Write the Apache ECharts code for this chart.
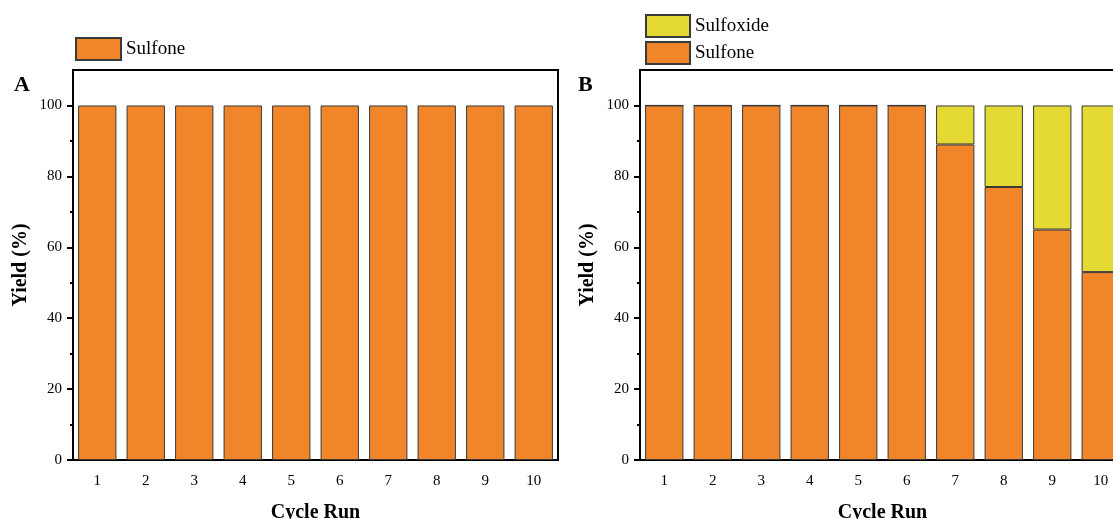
<!DOCTYPE html>
<html>
<head>
<meta charset="utf-8">
<script src="https://cdn.jsdelivr.net/npm/echarts@6/dist/echarts.min.js"></script>
<style>
html,body{margin:0;padding:0;background:#fff;}
#c{width:1113px;height:519px;}
</style>
</head>
<body>
<div id="c"></div>
<script>
const categories = ['1','2','3','4','5','6','7','8','9','10'];
const sulfoneA = [100,100,100,100,100,100,100,100,100,100];
const sulfoneB = [100,100,100,100,100,100,89,77,65,53];
const sulfoxideB = [0,0,0,0,0,0,11,23,35,47];
const yMajorTicks = [0,20,40,60,80,100];
const yMinorTicks = [10,30,50,70,90];

const FONT = '"Liberation Serif", "Times New Roman", serif';
const ORANGE = '#F0852A';
const YELLOW = '#E5DA33';
const BORDER = '#3a3a3a';

const chart = echarts.init(document.getElementById('c'), null, {renderer:'canvas'});

function grids(){
  return [
    {left:73, top:70, width:485, height:390, show:true, borderColor:'#000', borderWidth:2, backgroundColor:'transparent', outerBoundsMode:'none', containLabel:false},
    {left:640, top:70, width:485, height:390, show:true, borderColor:'#000', borderWidth:2, backgroundColor:'transparent', outerBoundsMode:'none', containLabel:false}
  ];
}
function xAxes(){
  const out = [];
  [0,1].forEach(g=>{
    out.push({
      type:'category', gridIndex:g, data:categories,
      name:'Cycle Run', nameLocation:'middle', nameGap:43,
      nameTextStyle:{fontFamily:FONT, fontWeight:'bold', fontSize:20, color:'#000'},
      axisLine:{lineStyle:{color:'#000', width:2}},
      axisTick:{alignWithLabel:true, length:6, lineStyle:{color:'#000', width:2}},
      axisLabel:{fontFamily:FONT, fontSize:15, color:'#000', margin:14},
      splitLine:{show:false}
    });
    out.push({
      type:'category', gridIndex:g, data:categories,
      axisLine:{show:false},
      axisTick:{length:3, lineStyle:{color:'#000', width:2}},
      axisLabel:{show:false}, splitLine:{show:false}
    });
  });
  return out;
}
function yAxes(){
  const out = [];
  [0,1].forEach(g=>{
    out.push({
      type:'value', gridIndex:g, min:0, max:110, interval:10,
      name:'Yield (%)', nameLocation:'middle', nameGap:42,
      nameTextStyle:{fontFamily:FONT, fontWeight:'bold', fontSize:20, color:'#000'},
      axisLine:{show:true, lineStyle:{color:'#000', width:2}},
      axisTick:{show:true, length:6, customValues:yMajorTicks, lineStyle:{color:'#000', width:2}},
      axisLabel:{fontFamily:FONT, fontSize:15, color:'#000', margin:11, customValues:yMajorTicks},
      splitLine:{show:false}
    });
    out.push({
      type:'value', gridIndex:g, min:0, max:110, interval:10, position:'left',
      axisLine:{show:false},
      axisTick:{show:true, length:3, customValues:yMinorTicks, lineStyle:{color:'#000', width:2}},
      axisLabel:{show:false}, splitLine:{show:false}
    });
  });
  return out;
}

const barCommon = {type:'bar', barCategoryGap:'21%'};

chart.setOption({
  animation:false,
  backgroundColor:'#fff',
  title:[
    {text:'A', left:9, top:69, textStyle:{fontFamily:FONT, fontWeight:'bold', fontSize:22, color:'#000'}},
    {text:'B', left:573, top:69, textStyle:{fontFamily:FONT, fontWeight:'bold', fontSize:22, color:'#000'}}
  ],
  legend:[
    {data:['Sulfone A'], left:70, top:32, itemWidth:45, itemHeight:22, orient:'vertical', icon:'rect', itemGap:3,
     formatter:()=> 'Sulfone',
     textStyle:{fontFamily:FONT, fontSize:19, color:'#000'}},
    {data:['Sulfoxide','Sulfone'], left:640, top:9, itemWidth:44, itemHeight:22, itemGap:3, orient:'vertical', icon:'rect',
     textStyle:{fontFamily:FONT, fontSize:19, color:'#000'}}
  ],
  grid:grids(),
  xAxis:xAxes(),
  yAxis:yAxes(),
  series:[
    Object.assign({}, barCommon, {name:'Sulfone A', xAxisIndex:0, yAxisIndex:0, data:sulfoneA,
      itemStyle:{color:ORANGE, borderColor:BORDER, borderWidth:1}}),
    Object.assign({}, barCommon, {name:'Sulfone', xAxisIndex:2, yAxisIndex:2, stack:'b', data:sulfoneB,
      itemStyle:{color:ORANGE, borderColor:BORDER, borderWidth:1}}),
    Object.assign({}, barCommon, {name:'Sulfoxide', xAxisIndex:2, yAxisIndex:2, stack:'b', data:sulfoxideB,
      itemStyle:{color:YELLOW, borderColor:BORDER, borderWidth:1}})
  ]
});
</script>
</body>
</html>
